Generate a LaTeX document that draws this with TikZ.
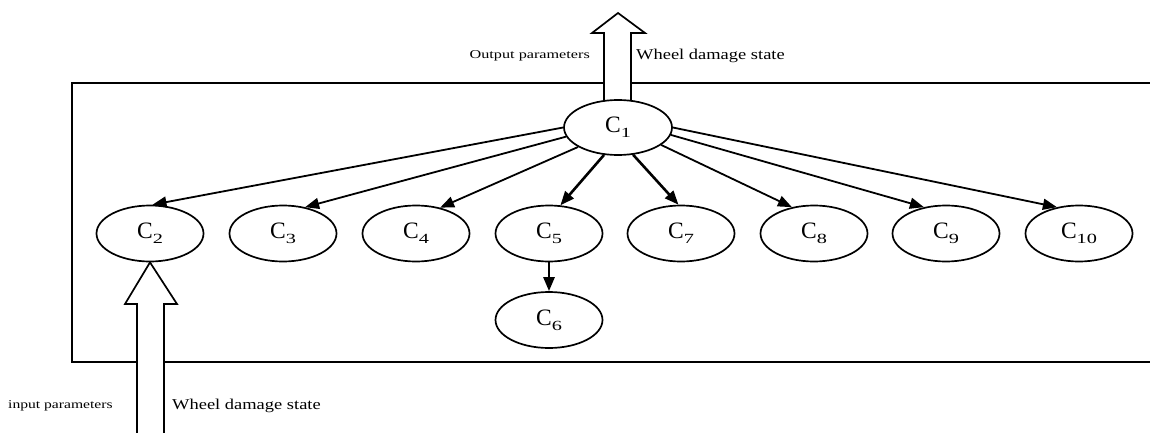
\documentclass[tikz,border=0pt]{standalone}
\usepackage{fontspec}
\usepackage{graphicx}
\setmainfont{Liberation Serif}
\usetikzlibrary{shapes.geometric,arrows.meta}
\pgfdeclarelayer{bg}
\pgfsetlayers{bg,main}
\newcommand{\cl}[1]{C\raisebox{-0.2em}{\fontsize{14}{14}\selectfont\scalebox{1.45}[1]{#1}}}
\begin{document}
\begin{tikzpicture}[x=1pt,y=-1pt,
  cnode/.style={ellipse,draw,line width=1.7pt,fill=white,minimum width=107pt,minimum height=56pt,inner sep=0pt,font=\fontsize{23.5}{23.5}\selectfont},
  edge/.style={line width=1.8pt,-{Triangle[length=14pt,width=11pt]}},
  boldedge/.style={edge,line width=2.6pt},
  blockarrow/.style={line width=1.7pt,fill=white,line join=miter},
  frame/.style={line width=1.9pt},
  smalllbl/.style={font=\fontsize{12}{12}\selectfont,inner sep=0pt},
  biglbl/.style={font=\fontsize{15}{15}\selectfont,inner sep=0pt}]
\useasboundingbox (0,0) rectangle (1150,433);

% nodes
\node[cnode,minimum width=108pt,minimum height=55pt] (c1) at (618,127.5) {\cl{1}};
\node[cnode] (c2) at (150,233.5) {\cl{2}};
\node[cnode] (c3) at (283,233.5) {\cl{3}};
\node[cnode] (c4) at (416,233.5) {\cl{4}};
\node[cnode] (c5) at (549,233.5) {\cl{5}};
\node[cnode] (c7) at (681,233.5) {\cl{7}};
\node[cnode] (c8) at (814,233.5) {\cl{8}};
\node[cnode] (c9) at (946,233.5) {\cl{9}};
\node[cnode] (c10) at (1079,233.5) {\cl{10}};
\node[cnode] (c6) at (549,320) {\cl{6}};

% frame and block arrows
\begin{pgfonlayer}{bg}
  \draw[frame] (1160,83) -- (72,83) -- (72,362) -- (1160,362);
  % output arrow
  \draw[blockarrow] (604,112) -- (604,33) -- (592,33) -- (618,13) -- (645,33) -- (631,33) -- (631,112);
  % input arrow
  \fill[white] (137,440) -- (137,304) -- (125,304) -- (150,262) -- (177,304) -- (164,304) -- (164,440) -- cycle;
  \draw[blockarrow,fill=none] (137,440) -- (137,304) -- (125,304) -- (c2.south) -- (177,304) -- (164,304) -- (164,440);
\end{pgfonlayer}

% edges
\draw[edge] (c1.180) -- (c2.85);
\draw[edge] (c1.190) -- (c3.50);
\draw[edge] (c1.206) -- (c4.47);
\draw[boldedge] (c1.243) -- (c5.68);
\draw[boldedge] (c1.299) -- (c7.95);
\draw[edge] (c1.338) -- (c8.130);
\draw[edge] (c1.352) -- (c9.130);
\draw[edge] (c1.0) -- (c10.130);
\draw[boldedge] (c5.south) -- (c6.north);

% labels
\node[smalllbl,anchor=east] (outlbl) at (590,56) {\scalebox{1.35}[1]{Output parameters}};
\node[biglbl,anchor=west] (outstate) at (636,56) {\scalebox{1.23}[1]{Wheel damage state}};
\node[smalllbl,anchor=west] (inlbl) at (8,406) {\scalebox{1.3}[1]{input parameters}};
\node[biglbl,anchor=west] (instate) at (172,406) {\scalebox{1.23}[1]{Wheel damage state}};
\end{tikzpicture}
\end{document}
